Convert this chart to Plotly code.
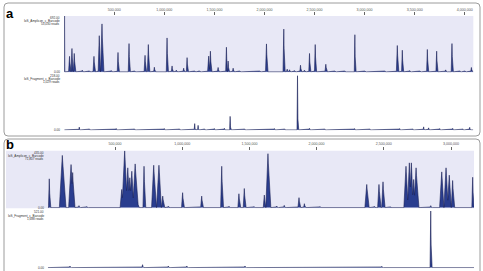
import numpy as np
import plotly.graph_objects as go

W, H = 483, 271

# ---------------- DATA (positions in kb, coverage values) ----------------
# Panel a : genome ~4.09 Mb
a_len_kb = 4086
a_amp_pos = [3, 53, 77, 100, 180, 250, 297, 350, 377, 470, 537, 647, 700, 807, 840, 900,
             1027, 1077, 1120, 1193, 1227, 1300, 1350, 1443, 1460, 1537, 1620, 1637, 1687,
             1750, 1850, 1950, 2020, 2193, 2227, 2250, 2300, 2360, 2400, 2450, 2507, 2613,
             2700, 2800, 2903, 3000, 3100, 3200, 3327, 3377, 3450, 3550, 3627, 3720, 3810,
             3873, 3950, 4000, 4067]
a_amp_val = [692, 192, 289, 228, 20, 12, 192, 448, 594, 15, 240, 350, 10, 204, 338, 57,
             420, 73, 20, 45, 176, 10, 12, 195, 256, 54, 305, 134, 45,
             10, 8, 10, 346, 530, 33, 25, 15, 82, 20, 228, 338, 94,
             10, 12, 460, 10, 8, 12, 326, 268, 15, 10, 277, 256, 24,
             350, 12, 10, 54]
a_amp_wid = [3, 10, 10, 10, 8, 8, 10, 12, 15, 8, 8, 8, 8, 10, 10, 8,
             8, 8, 8, 8, 8, 8, 8, 12, 10, 8, 8, 8, 8,
             8, 8, 8, 10, 8, 8, 8, 8, 8, 8, 8, 8, 10,
             8, 8, 6, 8, 8, 8, 10, 8, 8, 8, 8, 8, 8,
             8, 8, 8, 8]
a_amp_max = 692

a_frag_pos = [60, 150, 250, 400, 520, 700, 850, 1000, 1150, 1303, 1337, 1400, 1500, 1600,
              1657, 1800, 1950, 2100, 2200, 2330, 2450, 2600, 2750, 2900, 3050, 3200,
              3350, 3480, 3590, 3640, 3750, 3880, 3980, 4050]
a_frag_val = [3, 11, 4, 3, 5, 4, 3, 5, 4, 25, 18, 4, 5, 6,
              54, 4, 3, 5, 4, 218, 6, 4, 3, 5, 4, 3,
              5, 4, 12, 8, 5, 6, 4, 10]
a_frag_max = 218

# Panel b : genome ~3.17 Mb
b_len_kb = 3171
b_amp_pos = [11, 108, 173, 185, 232, 289, 550, 572, 595, 610, 625, 650, 668, 716, 788, 827,
             855, 897, 1003, 1145, 1294, 1348, 1422, 1462, 1534, 1611, 1638, 1703, 1759,
             1869, 1909, 2025, 2112, 2373, 2429, 2464, 2494, 2546, 2665, 2690, 2705, 2722,
             2740, 2800, 2849, 2931, 2963, 2987, 3012, 3161]
b_amp_val = [220, 399, 329, 268, 15, 8, 139, 435, 304, 228, 278, 334, 50, 316, 324, 324,
             88, 10, 114, 88, 316, 10, 106, 146, 8, 96, 412, 12, 17,
             76, 30, 8, 5, 177, 10, 177, 197, 6, 316, 342, 342, 215,
             304, 5, 15, 273, 304, 248, 207, 232]
b_amp_wid = [6, 22, 18, 12, 6, 6, 12, 20, 15, 15, 15, 18, 8, 8, 16, 18,
             10, 6, 8, 8, 8, 6, 8, 8, 6, 8, 16, 6, 6,
             8, 6, 6, 6, 14, 6, 10, 10, 6, 16, 14, 14, 12,
             16, 6, 5, 16, 16, 14, 10, 6]
b_amp_max = 435

b_frag_pos = [40, 165, 300, 450, 600, 705, 800, 897, 1034, 1200, 1350, 1467, 1600, 1750,
              1900, 2050, 2200, 2309, 2400, 2485, 2600, 2750, 2849, 2950, 3050, 3150]
b_frag_val = [3, 14, 3, 4, 3, 27, 4, 15, 15, 3, 4, 15, 3, 4,
              5, 3, 4, 5, 3, 12, 4, 3, 521, 4, 6, 3]
b_frag_max = 521

a_tick_vals = [500000, 1000000, 1500000, 2000000, 2500000, 3000000, 3500000, 4000000]
a_tick_text = ["500,000", "1,000,000", "1,500,000", "2,000,000", "2,500,000",
               "3,000,000", "3,500,000", "4,000,000"]
b_tick_vals = [500000, 1000000, 1500000, 2000000, 2500000, 3000000]
b_tick_text = ["500,000", "1,000,000", "1,500,000", "2,000,000", "2,500,000", "3,000,000"]

track_names = ["IoS_Amplicon_c_Barcode", "IoS_Fragment_c_Barcode"]
a_reads = ["53,030 reads", "1,029 reads"]
b_reads = ["71,807 reads", "1,688 reads"]


# ---------------- helpers ----------------
def profile(length_kb, pos, val, wid, power=1.0, default_w=6):
    x = np.arange(0, length_kb + 1, 0.5)
    y = np.zeros_like(x, dtype=float)
    for i, (c, h) in enumerate(zip(pos, val)):
        w = wid[i] if wid is not None else default_w
        t = np.clip(1 - np.abs(x - c) / w, 0, None) ** power
        y = np.maximum(y, h * t)
    return x * 1000, y


def fx(px):
    return px / W


def fy(py):
    return 1 - py / H


FILL = "#2a3d8f"
LINE = "#1b2258"
LAV = "#e8e8f6"

fig = go.Figure()

tracks = [
    ("x", "y", profile(a_len_kb, a_amp_pos, a_amp_val, a_amp_wid, 1.3)),
    ("x2", "y2", profile(a_len_kb, a_frag_pos, a_frag_val, None, 1.0, 5)),
    ("x3", "y3", profile(b_len_kb, b_amp_pos, b_amp_val, b_amp_wid, 1.0)),
    ("x4", "y4", profile(b_len_kb, b_frag_pos, b_frag_val, None, 1.0, 5)),
]
for xa, ya, (xx, yy) in tracks:
    fig.add_trace(go.Scatter(x=xx, y=yy, xaxis=xa, yaxis=ya, mode="lines",
                             fill="tozeroy", fillcolor=FILL,
                             line=dict(color=LINE, width=0.6),
                             hoverinfo="skip", showlegend=False))

# pixel layout
a_x0, a_x1 = 64.25, 473.3
b_x0, b_x1 = 47.8, 474.0
a_amp_y = (16, 72.5)
a_frag_y = (75.5, 130.5)
b_amp_y = (150.7, 208.3)
b_frag_y = (211.0, 268.3)

tickfont = dict(family="Liberation Sans", size=3.6, color="#555")


def ruler_axis(x0, x1, length_kb, tv, tt):
    return dict(domain=[fx(x0), fx(x1)], range=[0, length_kb * 1000], side="top",
                tickmode="array", tickvals=tv, ticktext=tt, ticks="outside",
                ticklen=3, tickwidth=0.6, tickcolor="#666", tickfont=tickfont,
                showgrid=False, zeroline=False, showline=False, fixedrange=True)


def hidden_x(x0, x1, length_kb):
    return dict(domain=[fx(x0), fx(x1)], range=[0, length_kb * 1000], showticklabels=False,
                ticks="", showgrid=False, zeroline=False, showline=False)


def yax(dom, mx, anchor):
    return dict(domain=[fy(dom[1]), fy(dom[0])], range=[-mx * 0.012, mx], anchor=anchor,
                showticklabels=False, ticks="", showgrid=False, zeroline=False, showline=False)


fig.update_layout(
    width=W, height=H, margin=dict(l=0, r=0, t=0, b=0),
    paper_bgcolor="white", plot_bgcolor="rgba(0,0,0,0)",
    xaxis=dict(**ruler_axis(a_x0, a_x1, a_len_kb, a_tick_vals, a_tick_text), anchor="y"),
    xaxis2=dict(**hidden_x(a_x0, a_x1, a_len_kb), anchor="y2"),
    xaxis3=dict(**ruler_axis(b_x0, b_x1, b_len_kb, b_tick_vals, b_tick_text), anchor="y3"),
    xaxis4=dict(**hidden_x(b_x0, b_x1, b_len_kb), anchor="y4"),
    yaxis=yax(a_amp_y, a_amp_max, "x"),
    yaxis2=yax(a_frag_y, a_frag_max, "x2"),
    yaxis3=yax(b_amp_y, b_amp_max, "x3"),
    yaxis4=yax(b_frag_y, b_frag_max, "x4"),
)

shapes = []
shapes.append(dict(type="rect", xref="paper", yref="paper", layer="below",
                   x0=fx(a_x0), x1=fx(a_x1), y0=fy(a_amp_y[1]), y1=fy(a_amp_y[0]),
                   fillcolor=LAV, line=dict(width=0)))
shapes.append(dict(type="rect", xref="paper", yref="paper", layer="below",
                   x0=fx(6), x1=fx(b_x1), y0=fy(b_amp_y[1]), y1=fy(b_amp_y[0]),
                   fillcolor=LAV, line=dict(width=0)))


def rounded(x0, y0, x1, y1, r=4):
    rx, ry = r / W, r / H
    X0, X1, Y0, Y1 = fx(x0), fx(x1), fy(y0), fy(y1)
    return (f"M {X0+rx},{Y0} L {X1-rx},{Y0} Q {X1},{Y0} {X1},{Y0-ry} "
            f"L {X1},{Y1+ry} Q {X1},{Y1} {X1-rx},{Y1} L {X0+rx},{Y1} "
            f"Q {X0},{Y1} {X0},{Y1+ry} L {X0},{Y0-ry} Q {X0},{Y0} {X0+rx},{Y0} Z")


shapes.append(dict(type="path", xref="paper", yref="paper", path=rounded(4, 3, 480, 136),
                   line=dict(color="#9c9c9c", width=1)))
shapes.append(dict(type="path", xref="paper", yref="paper", path=rounded(4, 139, 480, 276),
                   line=dict(color="#9c9c9c", width=1)))
fig.update_layout(shapes=shapes)

lab = dict(family="Liberation Sans", size=3.1, color="#333")
ann = []


def label(x, y, text, anchor="right"):
    ann.append(dict(x=fx(x), y=fy(y), xref="paper", yref="paper", text=text,
                    showarrow=False, xanchor=anchor, yanchor="middle", font=lab,
                    borderpad=0))


# panel a labels
label(61, 18.0, f"{a_amp_max:.2f}")
label(61, 21.2, track_names[0])
label(61, 24.4, a_reads[0])
label(61, 71.7, "0.00")
label(61, 76.0, f"{a_frag_max:.2f}")
label(61, 79.2, track_names[1])
label(61, 82.4, a_reads[1])
label(61, 130.0, "0.00")
# panel b labels
label(45, 152.5, f"{b_amp_max:.2f}")
label(45, 155.7, track_names[0])
label(45, 158.9, b_reads[0])
label(45, 207.7, "0.00")
label(45, 212.3, f"{b_frag_max:.2f}")
label(45, 215.5, track_names[1])
label(45, 218.7, b_reads[1])
label(45, 268.3, "0.00")

ann.append(dict(x=fx(10), y=fy(13), xref="paper", yref="paper", text="<b>a</b>",
                showarrow=False, xanchor="center", yanchor="middle",
                font=dict(family="Liberation Sans", size=13, color="black")))
ann.append(dict(x=fx(10), y=fy(144.5), xref="paper", yref="paper", text="<b>b</b>",
                showarrow=False, xanchor="center", yanchor="middle",
                font=dict(family="Liberation Sans", size=13, color="black")))
fig.update_layout(annotations=ann)

fig.write_html("out.html")
